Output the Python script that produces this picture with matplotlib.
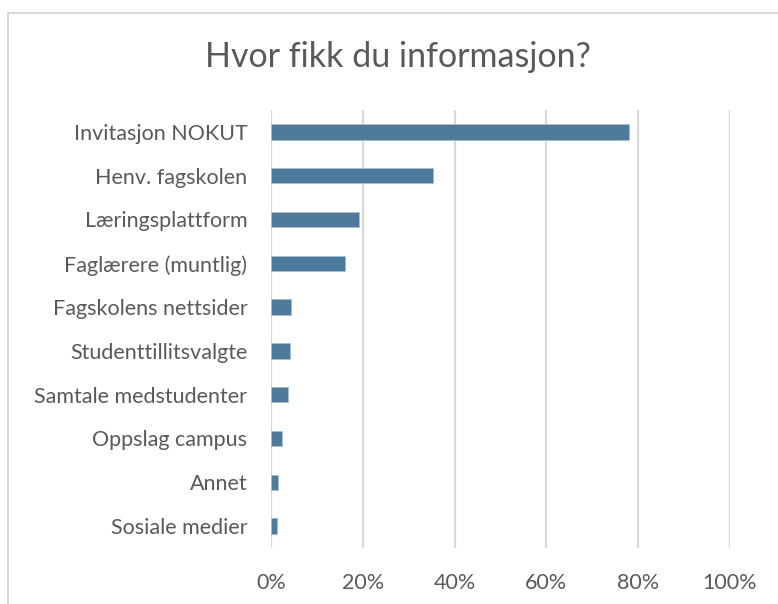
import numpy as np
import matplotlib.pyplot as plt
from matplotlib.lines import Line2D
from matplotlib.ticker import PercentFormatter

# data
categories = ["Invitasjon NOKUT", "Henv. fagskolen", "Læringsplattform",
              "Faglærere (muntlig)", "Fagskolens nettsider", "Studenttillitsvalgte",
              "Samtale medstudenter", "Oppslag campus", "Annet", "Sosiale medier"]
values = [78.0, 35.4, 19.2, 16.2, 4.3, 4.1, 3.8, 2.4, 1.6, 1.2]
xticks = [0, 20, 40, 60, 80, 100]

plt.rcParams['font.family'] = ['Lato', 'DejaVu Sans']
txt = "#595959"

W, H = 778, 604
fig = plt.figure(figsize=(W / 100, H / 100), dpi=100)
ax = fig.add_axes([271 / W, 1 - 548 / H, (730 - 271) / W, (548 - 110) / H])

y = np.arange(len(categories))
ax.barh(y, values, height=0.35, color="#4E7B9B", edgecolor="#A9BFD0", linewidth=0.6)
ax.set_ylim(len(categories) - 0.5, -0.5)
ax.set_xlim(0, 100)
ax.set_xticks(xticks)
ax.xaxis.set_major_formatter(PercentFormatter(decimals=0))
ax.set_yticks(y)
ax.set_yticklabels(categories)
ax.tick_params(axis='both', length=0, labelsize=15.5, labelcolor=txt)
ax.tick_params(axis='y', pad=17)
ax.tick_params(axis='x', pad=18)
ax.grid(axis='x', color="#D9D9D9", linewidth=1.6)
ax.set_axisbelow(True)
for s in ax.spines.values():
    s.set_visible(False)

fig.text(398 / W, 1 - 57 / H, "Hvor fikk du informasjon?", ha='center', va='center',
         fontsize=24.5, color=txt)

# chart border (only top and left fall inside the picture)
bx, by = 7.5 / W, 1 - 12.5 / H
fig.add_artist(Line2D([bx, bx, 1.0], [0.0, by, by], transform=fig.transFigure,
                      color="#D9D9D9", linewidth=1.5))

fig.savefig("out.png", dpi=100)
